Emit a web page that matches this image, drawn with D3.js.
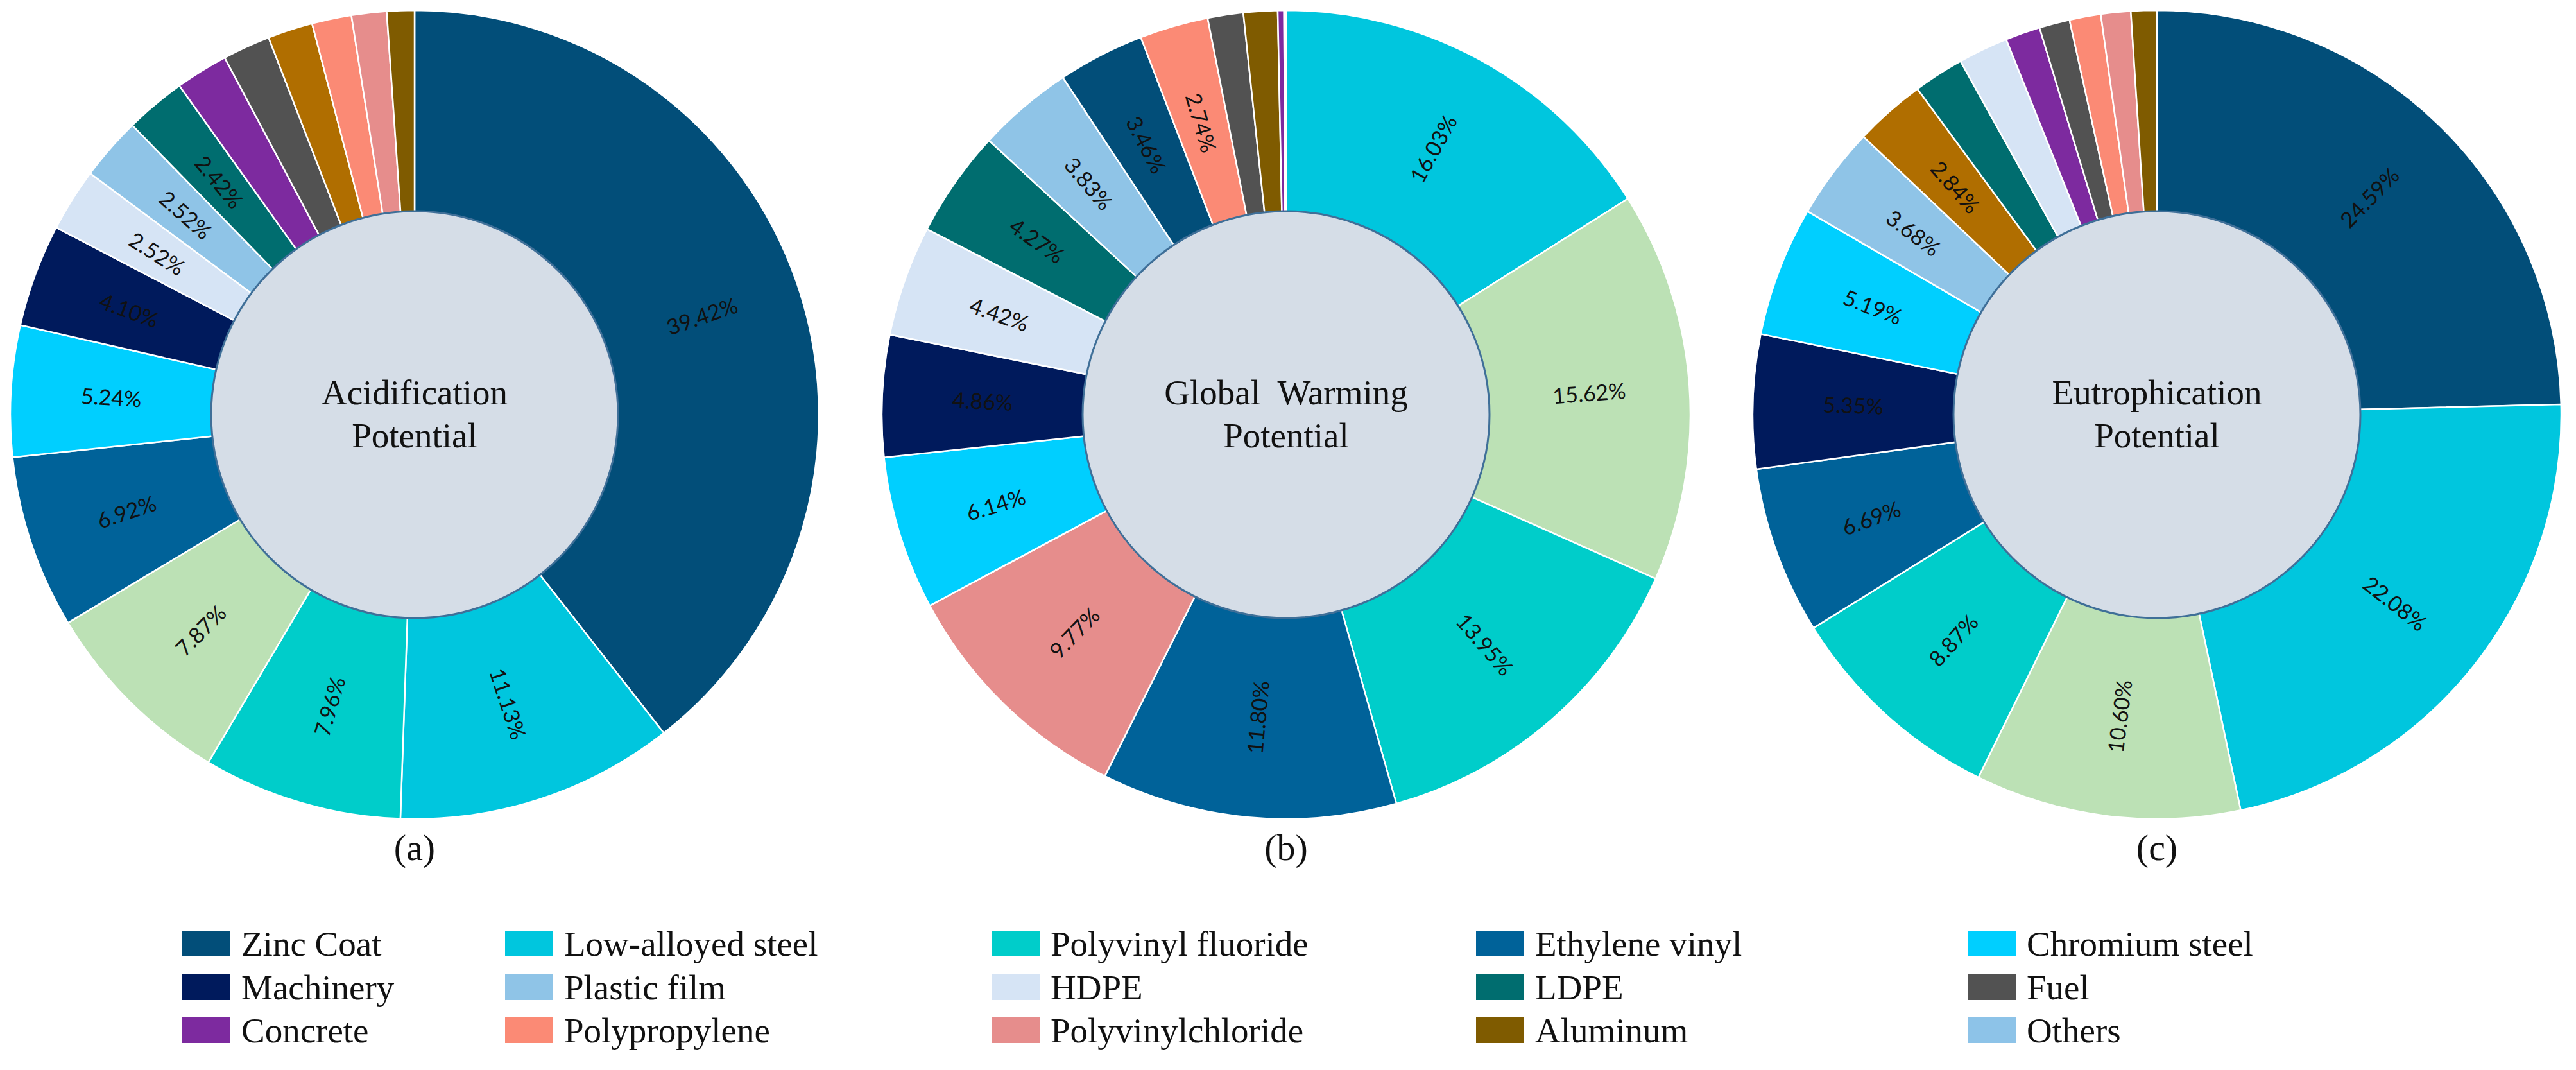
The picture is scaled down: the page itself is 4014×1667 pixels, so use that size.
<!DOCTYPE html>
<html>
<head>
<meta charset="utf-8">
<script src="https://cdn.jsdelivr.net/npm/d3@7"></script>
<style>
  body { margin: 0; background: #ffffff; }
  svg { display: block; }
  .pct { font-family: Lato, "Open Sans", sans-serif; font-size: 34px; fill: #111; }
  .serif { font-family: "Liberation Serif", "DejaVu Serif", serif; fill: #111; white-space: pre; }
</style>
</head>
<body>
<script>
// legend entries, in reading order (5 columns x 3 rows)
const legendNames = [
  "Zinc Coat", "Low-alloyed steel", "Polyvinyl fluoride", "Ethylene vinyl", "Chromium steel",
  "Machinery", "Plastic film", "HDPE", "LDPE", "Fuel",
  "Concrete", "Polypropylene", "Polyvinylchloride", "Aluminum", "Others"
];

// two slice colours appear in the rings but have no legend entry
const sliceKeys = legendNames.concat(["Unlisted green", "Unlisted orange"]);
const sliceColors = [
  "#024e79", "#00c6de", "#00cdca", "#006299", "#00cfff",
  "#001a5c", "#8fc4e7", "#d6e4f5", "#006d6f", "#525252",
  "#7d2a9f", "#fb8a75", "#e68d8c", "#7f5b00", "#8dc3e8",
  "#bce1b5", "#b06e00"
];

// (a) Acidification Potential, clockwise from 12 o'clock
const acidNames = ["Zinc Coat", "Low-alloyed steel", "Polyvinyl fluoride", "Unlisted green", "Ethylene vinyl",
  "Chromium steel", "Machinery", "HDPE", "Plastic film", "LDPE",
  "Concrete", "Fuel", "Unlisted orange", "Polypropylene", "Polyvinylchloride", "Aluminum"];
const acidValues = [39.42, 11.13, 7.96, 7.87, 6.92, 5.24, 4.10, 2.52, 2.52, 2.42,
  2.10, 1.90, 1.80, 1.58, 1.40, 1.10];

// (b) Global Warming Potential
const gwpNames = ["Low-alloyed steel", "Unlisted green", "Polyvinyl fluoride", "Ethylene vinyl", "Polyvinylchloride",
  "Chromium steel", "Machinery", "HDPE", "LDPE", "Plastic film",
  "Zinc Coat", "Polypropylene", "Fuel", "Aluminum", "Concrete", "Unlisted orange"];
const gwpValues = [16.03, 15.62, 13.95, 11.80, 9.77, 6.14, 4.86, 4.42, 4.27, 3.83,
  3.46, 2.74, 1.42, 1.36, 0.25, 0.08];

// (c) Eutrophication Potential
const eutNames = ["Zinc Coat", "Low-alloyed steel", "Unlisted green", "Polyvinyl fluoride", "Ethylene vinyl",
  "Machinery", "Chromium steel", "Plastic film", "Unlisted orange", "LDPE",
  "HDPE", "Concrete", "Fuel", "Polypropylene", "Polyvinylchloride", "Aluminum"];
const eutValues = [24.59, 22.08, 10.60, 8.87, 6.69, 5.35, 5.19, 3.68, 2.84, 2.02,
  1.99, 1.39, 1.22, 1.25, 1.19, 1.03];

const panelTitles = [["Acidification", "Potential"], ["Global  Warming", "Potential"], ["Eutrophication", "Potential"]];
const panelTags = ["(a)", "(b)", "(c)"];

const W = 4014, H = 1667;
const centersX = [646, 2004, 3361], centerY = 646;
const outerR = 630, holeR = 317;
const labelMin = 2.3; // smaller slices carry no percentage in the original

const color = d3.scaleOrdinal().domain(sliceKeys).range(sliceColors);

const svg = d3.select("body").append("svg")
  .attr("width", W)
  .attr("height", H);

svg.append("rect").attr("width", W).attr("height", H).attr("fill", "#ffffff");

const pie = d3.pie().sort(null).value(d => d.value);
const arc = d3.arc().innerRadius(holeR - 15).outerRadius(outerR);
const labelArc = d3.arc().innerRadius((holeR + outerR) / 2).outerRadius((holeR + outerR) / 2);

function drawDonut(i, names, values) {
  var data = names.map((n, k) => ({ name: n, value: values[k] }));
  var g = svg.append("g")
    .attr("transform", "translate(" + centersX[i] + "," + centerY + ")");

  var arcs = pie(data);

  g.selectAll("path.slice")
    .data(arcs)
    .join("path")
      .attr("class", "slice")
      .attr("d", arc)
      .attr("fill", d => color(d.data.name))
      .attr("stroke", "#ffffff")
      .attr("stroke-width", 2.5)
      .attr("stroke-linejoin", "round");

  g.append("circle")
    .attr("r", holeR)
    .attr("fill", "#d5dde7")
    .attr("stroke", "#3f6f98")
    .attr("stroke-width", 3);

  // percentage labels, turned to run along the radius like the source
  g.selectAll("text.pct")
    .data(arcs.filter(d => d.data.value >= labelMin))
    .join("text")
      .attr("class", "pct")
      .attr("text-anchor", "middle")
      .attr("dominant-baseline", "central")
      .attr("transform", d => {
        var c = labelArc.centroid(d);
        var deg = (d.startAngle + d.endAngle) / 2 * 180 / Math.PI;
        var rot = deg <= 180 ? deg - 90 : deg - 270;
        return "translate(" + c[0] + "," + c[1] + ") rotate(" + rot + ")";
      })
      .text(d => d.data.value.toFixed(2) + "%");

  var title = g.append("text")
    .attr("class", "serif")
    .attr("text-anchor", "middle")
    .attr("font-size", 55);
  title.append("tspan").attr("x", 0).attr("y", -16).text(panelTitles[i][0]);
  title.append("tspan").attr("x", 0).attr("y", 51).text(panelTitles[i][1]);

  svg.append("text")
    .attr("class", "serif")
    .attr("text-anchor", "middle")
    .attr("font-size", 58)
    .attr("x", centersX[i])
    .attr("y", 1340)
    .text(panelTags[i]);
}

drawDonut(0, acidNames, acidValues);
drawDonut(1, gwpNames, gwpValues);
drawDonut(2, eutNames, eutValues);

// legend
const legendColX = [284, 787, 1545, 2300, 3066];
const legendRowY = [1470, 1538, 1605];

var legend = svg.append("g").attr("class", "legend");
legendNames.forEach((name, k) => {
  var x = legendColX[k % 5], y = legendRowY[Math.floor(k / 5)];
  legend.append("rect")
    .attr("x", x).attr("y", y - 20)
    .attr("width", 75).attr("height", 40)
    .attr("fill", color(name));
  legend.append("text")
    .attr("class", "serif")
    .attr("font-size", 55)
    .attr("x", x + 92)
    .attr("y", y + 19)
    .text(name);
});
</script>
</body>
</html>
